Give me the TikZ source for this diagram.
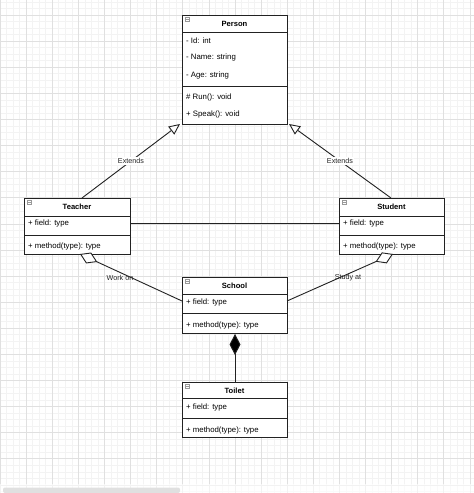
\documentclass[tikz,border=0pt]{standalone}
\usepackage{fontspec}
\setmainfont{Liberation Sans}
\usetikzlibrary{arrows.meta}
\definecolor{minorc}{HTML}{F3F3F3}
\definecolor{majorc}{HTML}{E0E0E0}
\definecolor{linec}{HTML}{222222}
\definecolor{iconc}{HTML}{999999}
\tikzset{
  minorgrid/.style={draw=minorc,line width=0.5pt},
  majorgrid/.style={draw=majorc,line width=0.6pt},
  classbox/.style={draw=linec,line width=0.9pt,fill=white,rectangle,inner sep=0pt,anchor=north west},
  sepline/.style={draw=linec,line width=0.9pt},
  title/.style={font=\fontsize{7.6}{9}\selectfont\bfseries,inner sep=0pt,text=black},
  member/.style={font=\fontsize{7.8}{9}\selectfont,inner sep=0pt,anchor=west,text=black},
  elabel/.style={font=\fontsize{7.2}{9}\selectfont,inner sep=1pt,text=black!85},
  conn/.style={draw=linec,line width=0.9pt},
  icon/.style={draw=iconc,line width=0.5pt,fill=white}
}
\newcommand{\classicon}[2]{%
  \draw[icon] (#1+3,#2+2) rectangle (#1+7.5,#2+6.5);
  \draw[iconc,line width=0.5pt] (#1+4,#2+4.25) -- (#1+6.5,#2+4.25);}
\begin{document}
\begin{tikzpicture}[x=1pt,y=-1pt]
\useasboundingbox (0,0) rectangle (474,493);
\fill[white] (0,0) rectangle (474,493);
% grid
\foreach \i in {0,...,73} {\draw[minorgrid] ({\i*6.525},0) -- ({\i*6.525},493);}
\foreach \i in {-2,...,73} {\draw[minorgrid] (0,{15+\i*6.525}) -- (474,{15+\i*6.525});}
\foreach \i in {0,...,18} {\draw[majorgrid] ({\i*26.1},0) -- ({\i*26.1},493);}
\foreach \i in {-1,...,18} {\draw[majorgrid] (0,{15+\i*26.1}) -- (474,{15+\i*26.1});}
\fill[white,opacity=0.6] (0,484) rectangle (474,493);
\fill[black!12,rounded corners=2pt] (3,487.5) rectangle (180,493);

% Person
\node[classbox,minimum width=105pt,minimum height=109pt] (person) at (182,15) {};
\draw[sepline] (182,32) -- (287,32);
\draw[sepline] (182,86) -- (287,86);
\classicon{182}{15}
\node[title] (personT) at (234.5,23.5) {Person};
\node[member] (p1) at (186,40.5) {- Id: int};
\node[member] (p2) at (186,57.5) {- Name: string};
\node[member] (p3) at (186,75) {- Age: string};
\node[member] (p4) at (186,97.5) {\# Run(): void};
\node[member] (p5) at (186,114.5) {+ Speak(): void};

% Teacher
\node[classbox,minimum width=106pt,minimum height=56pt] (teacher) at (24,198) {};
\draw[sepline] (24,216) -- (130,216);
\draw[sepline] (24,235) -- (130,235);
\classicon{24}{198}
\node[title] (teacherT) at (77,207) {Teacher};
\node[member] (t1) at (28,223.5) {+ field: type};
\node[member] (t2) at (28,246.5) {+ method(type): type};

% Student
\node[classbox,minimum width=105pt,minimum height=56pt] (student) at (339,198) {};
\draw[sepline] (339,216) -- (444,216);
\draw[sepline] (339,235) -- (444,235);
\classicon{339}{198}
\node[title] (studentT) at (391.5,207) {Student};
\node[member] (s1) at (343,223.5) {+ field: type};
\node[member] (s2) at (343,246.5) {+ method(type): type};

% School
\node[classbox,minimum width=105pt,minimum height=56pt] (school) at (182,277) {};
\draw[sepline] (182,294) -- (287,294);
\draw[sepline] (182,313) -- (287,313);
\classicon{182}{277}
\node[title] (schoolT) at (234.5,286) {School};
\node[member] (sc1) at (186,302) {+ field: type};
\node[member] (sc2) at (186,325) {+ method(type): type};

% Toilet
\node[classbox,minimum width=105pt,minimum height=55pt] (toilet) at (182,382) {};
\draw[sepline] (182,398) -- (287,398);
\draw[sepline] (182,418) -- (287,418);
\classicon{182}{382}
\node[title] (toiletT) at (234.5,391) {Toilet};
\node[member] (to1) at (186,407) {+ field: type};
\node[member] (to2) at (186,430) {+ method(type): type};

% connectors
\coordinate (tTop) at (82,198);
\coordinate (pBL) at (180,124);
\coordinate (sTop) at (391,198);
\coordinate (pBR) at (289,124);
\draw[conn,-{Triangle[open,length=11pt,width=10pt,fill=white]}] (tTop) -- node[elabel,fill=white,pos=0.5] (ext1) {Extends} (pBL);
\draw[conn,-{Triangle[open,length=11pt,width=10pt,fill=white]}] (sTop) -- node[elabel,fill=white,pos=0.5] (ext2) {Extends} (pBR);

\draw[conn] (teacher.east |- t1) -- (student.west |- t1);

\coordinate (tAgg) at (80,254);
\coordinate (scL) at (182,301);
\coordinate (sAgg) at (393,254);
\coordinate (scR) at (287,301);
\draw[conn,{Diamond[open,length=19pt,width=12pt,fill=white]}-] (tAgg) -- (scL);
\draw[conn,{Diamond[open,length=19pt,width=12pt,fill=white]}-] (sAgg) -- (scR);
\node[elabel] (workon) at (120,277.5) {Work on};
\node[elabel] (studyat) at (348,277.5) {Study at};

\coordinate (scB) at (235,334);
\coordinate (toT) at (235,382);
\draw[conn,{Diamond[length=21pt,width=11pt,fill=black]}-] (scB) -- (toT);
\end{tikzpicture}
\end{document}
